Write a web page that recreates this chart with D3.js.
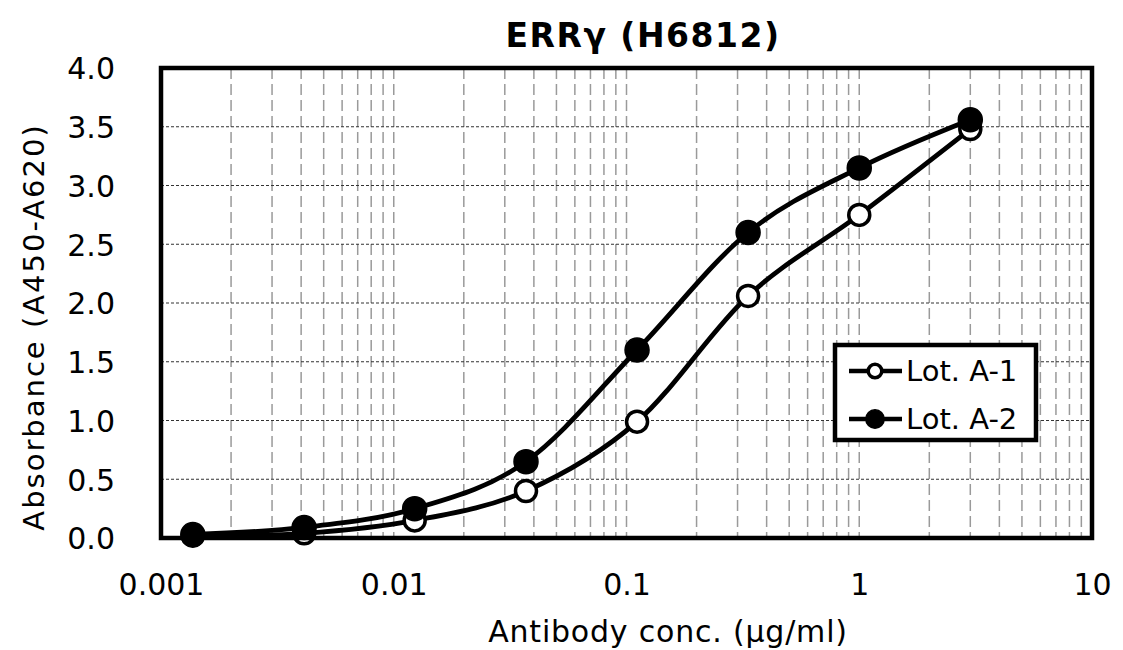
<!DOCTYPE html>
<html>
<head>
<meta charset="utf-8">
<script src="https://cdn.jsdelivr.net/npm/d3@7"></script>
<style>
  html, body { margin: 0; padding: 0; background: #fff; }
  svg { display: block; }
  text { font-family: "DejaVu Sans", Verdana, sans-serif; fill: #000; }
</style>
</head>
<body>
<svg id="chart" width="1123" height="650"></svg>
<script>
// ---- data ----
const concentrations = [0.00137, 0.00412, 0.0123, 0.037, 0.111, 0.333, 1, 3];
const lotA1 = [0.02, 0.04, 0.15, 0.40, 0.99, 2.06, 2.75, 3.48];
const lotA2 = [0.03, 0.09, 0.25, 0.65, 1.60, 2.60, 3.15, 3.56];
const seriesNames = ["Lot. A-1", "Lot. A-2"];
const xTickValues = [0.001, 0.01, 0.1, 1, 10];
const xTickLabels = ["0.001", "0.01", "0.1", "1", "10"];
const yTickValues = [0, 0.5, 1, 1.5, 2, 2.5, 3, 3.5, 4];
const titleText = "ERRγ (H6812)";
const xTitle = "Antibody conc. (µg/ml)";
const yTitle = "Absorbance (A450-A620)";

(function () {
// ---- layout ----
const svg = d3.select("#chart");
const pL = 161, pR = 1092, pT = 68, pB = 538;
const x = d3.scaleLog().domain([0.001, 10]).range([pL, pR]);
const y = d3.scaleLinear().domain([0, 4]).range([pB, pT]);

// vertical minor/major gridlines
const vGrid = [];
for (let e = -3; e < 1; e++) {
  for (let m = 1; m <= 9; m++) {
    const v = m * Math.pow(10, e);
    if (v > 0.001 * 1.0001 && v < 10 * 0.9999) vGrid.push(v);
  }
}
svg.append("g").selectAll("line").data(vGrid).join("line")
  .attr("x1", d => x(d)).attr("x2", d => x(d))
  .attr("y1", pT).attr("y2", pB)
  .attr("stroke", "#9a9a9a").attr("stroke-width", 1.5)
  .attr("stroke-dasharray", "11,5");

// horizontal gridlines
svg.append("g").selectAll("line").data(yTickValues.filter(v => v > 0 && v < 4)).join("line")
  .attr("x1", pL).attr("x2", pR)
  .attr("y1", d => y(d)).attr("y2", d => y(d))
  .attr("stroke", "#333").attr("stroke-width", 1.2)
  .attr("stroke-dasharray", "3,2");

// axes (labels)
const xAxis = d3.axisBottom(x).tickValues(xTickValues)
  .tickFormat((d, i) => xTickLabels[i]).tickSize(0).tickPadding(0);
const gx = svg.append("g").attr("transform", `translate(0,${pB})`).call(xAxis);
gx.select(".domain").remove();
gx.selectAll("text").attr("font-size", 30).attr("dy", 0).attr("y", 57)
  .attr("font-family", "DejaVu Sans, Verdana, sans-serif");

const yAxis = d3.axisLeft(y).tickValues(yTickValues)
  .tickFormat(d3.format(".1f")).tickSize(0).tickPadding(0);
const gy = svg.append("g").attr("transform", `translate(${pL},0)`).call(yAxis);
gy.select(".domain").remove();
gy.selectAll("text").attr("font-size", 30).attr("x", -46).attr("dy", "0.36em")
  .attr("font-family", "DejaVu Sans, Verdana, sans-serif");

// series lines
const line = d3.line().x(d => x(d[0])).y(d => y(d[1])).curve(d3.curveCardinal.tension(0));
const series = [
  { name: seriesNames[0], values: lotA1, fill: "#fff" },
  { name: seriesNames[1], values: lotA2, fill: "#000" }
];
series.forEach(s => {
  const pts = concentrations.map((c, i) => [c, s.values[i]]);
  svg.append("path").datum(pts).attr("d", line)
    .attr("fill", "none").attr("stroke", "#000").attr("stroke-width", 4.8);
});
series.forEach(s => {
  const pts = concentrations.map((c, i) => [c, s.values[i]]);
  svg.append("g").selectAll("circle").data(pts).join("circle")
    .attr("cx", d => x(d[0])).attr("cy", d => y(d[1]))
    .attr("r", s.fill === "#fff" ? 10.5 : 12)
    .attr("fill", s.fill).attr("stroke", "#000")
    .attr("stroke-width", s.fill === "#fff" ? 3.5 : 1.5);
});

// plot border
svg.append("rect").attr("x", pL).attr("y", pT)
  .attr("width", pR - pL).attr("height", pB - pT)
  .attr("fill", "none").attr("stroke", "#000").attr("stroke-width", 4.5);

// legend
const lg = svg.append("g");
lg.append("rect").attr("x", 835).attr("y", 345).attr("width", 201).attr("height", 95)
  .attr("fill", "#fff").attr("stroke", "#000").attr("stroke-width", 4.5);
series.forEach((s, i) => {
  const cy = 371 + i * 48;
  lg.append("line").attr("x1", 849).attr("x2", 902).attr("y1", cy).attr("y2", cy)
    .attr("stroke", "#000").attr("stroke-width", 4.5);
  lg.append("circle").attr("cx", 875).attr("cy", cy)
    .attr("r", s.fill === "#fff" ? 6.8 : 9.2)
    .attr("fill", s.fill).attr("stroke", "#000")
    .attr("stroke-width", s.fill === "#fff" ? 3.5 : 1.5);
  lg.append("text").attr("x", 906).attr("y", cy).attr("dy", "0.36em")
    .attr("font-size", 29).text(s.name);
});

// titles
svg.append("text").attr("x", 643).attr("y", 47).attr("text-anchor", "middle")
  .attr("font-size", 33).attr("font-weight", "bold")
  .style("letter-spacing", "1.5px").text(titleText);
svg.append("text").attr("x", 668).attr("y", 642).attr("text-anchor", "middle")
  .attr("font-size", 30).style("letter-spacing", "0.8px").text(xTitle);
svg.append("text").attr("transform", "translate(44,327) rotate(-90)")
  .attr("text-anchor", "middle").attr("font-size", 29)
  .style("letter-spacing", "2px").text(yTitle);
})();
</script>
</body>
</html>
